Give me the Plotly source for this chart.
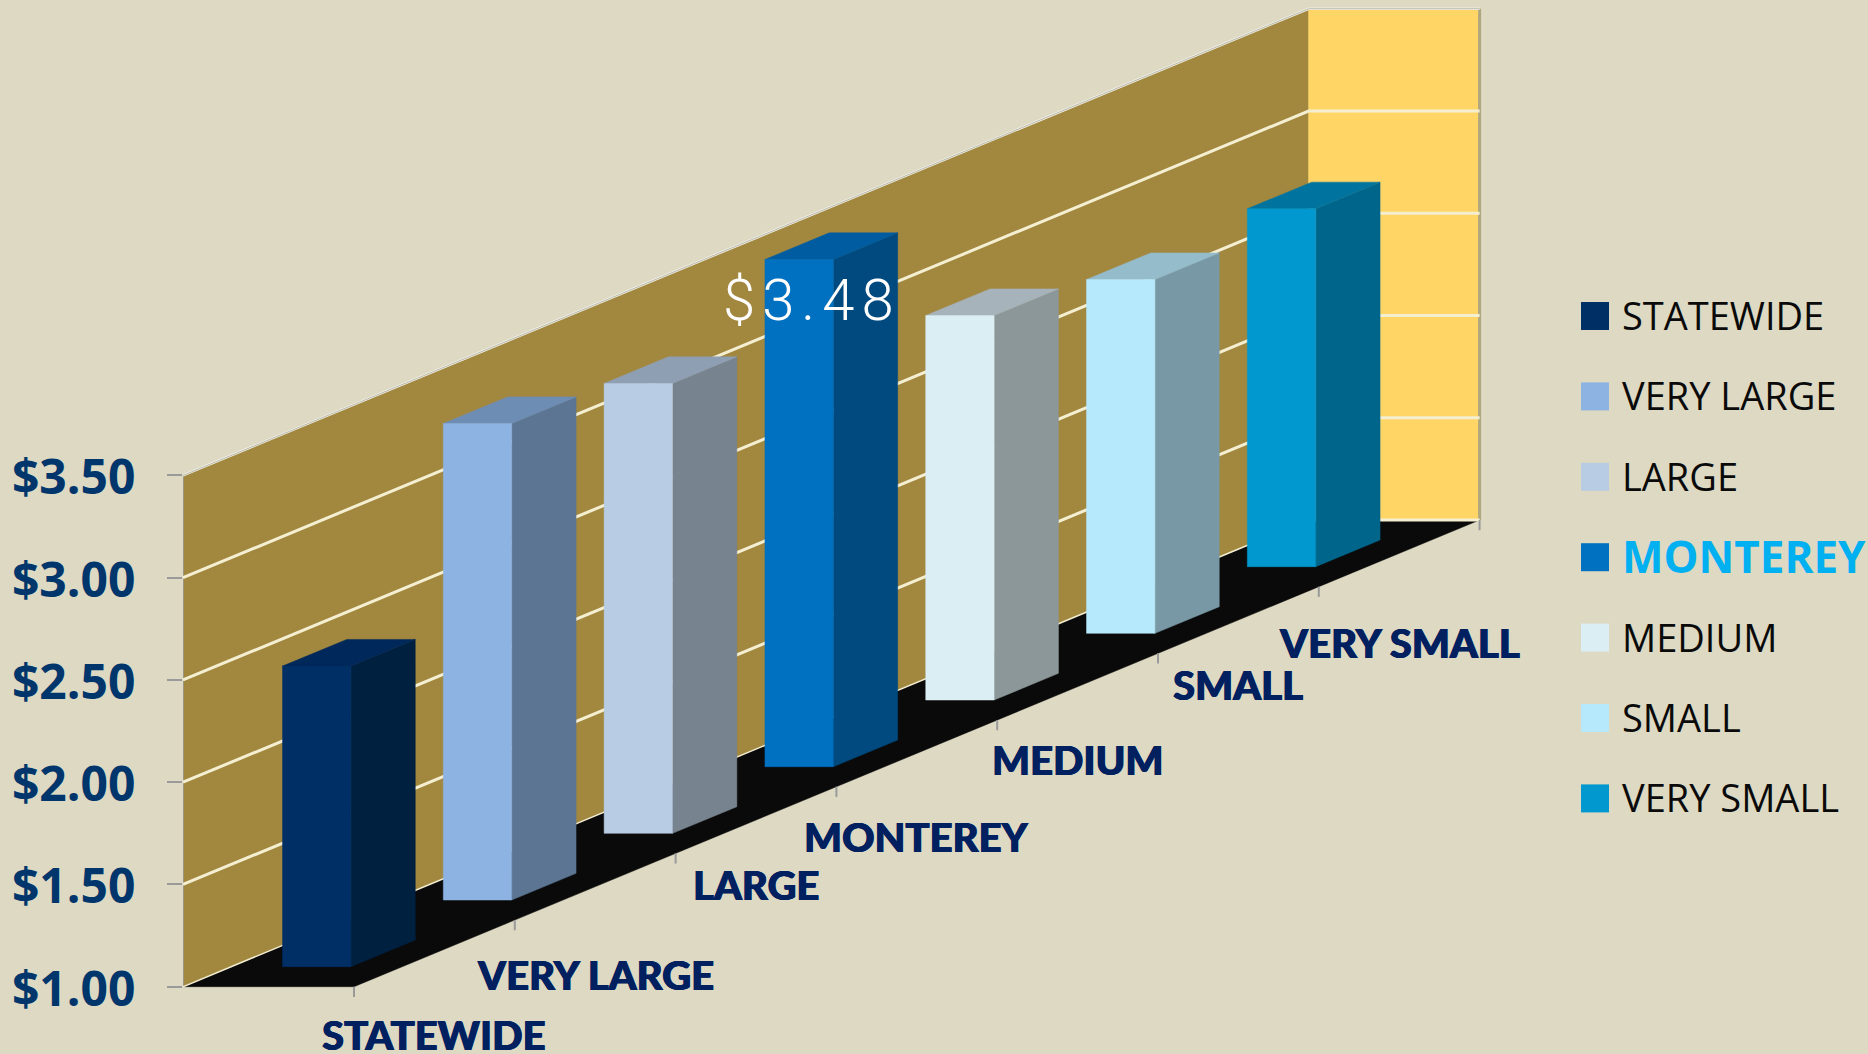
import plotly.graph_objects as go

# Average cost per district size group
categories = ["STATEWIDE", "VERY LARGE", "LARGE", "MONTEREY", "MEDIUM", "SMALL", "VERY SMALL"]
values = [2.47, 3.33, 3.20, 3.48, 2.88, 2.73, 2.75]
tick_values = [1.0, 1.5, 2.0, 2.5, 3.0, 3.5]
tick_labels = ["$1.00", "$1.50", "$2.00", "$2.50", "$3.00", "$3.50"]

front_colors = ["#002F66", "#8DB3E2", "#B8CCE4", "#0070C0", "#DBEEF4", "#B7E9FC", "#0098CF"]
side_colors = ["#002040", "#5B7593", "#77838F", "#004A7F", "#8C9799", "#7898A5", "#00658A"]
top_colors = ["#00285A", "#6D8DB5", "#8F9FB3", "#005CA0", "#A6B3BA", "#94BCCB", "#00749F"]

WIDTH, HEIGHT = 1868, 1054
LEFT = 183
SLOT_PX = 160.8          # pixels per category slot
DOLLAR_PX = 204.5        # pixels per dollar
BASE_Y_PX = 986.7        # pixel row of the $1.00 floor line
DEPTH = 171.0 / SLOT_PX  # horizontal run of the floor depth, in slots
RISE = 66.67 / DOLLAR_PX # vertical climb per slot of the oblique view, in dollars
BASE = tick_values[0]
TOP = tick_values[-1]
N = len(categories)

BG = "#DDD9C3"
WALL = "#A2873F"
SIDE_WALL = "#FFD666"
FLOOR = "#0A0A0A"
GRID = "#F5EFD2"
AXIS = "#9A9A9A"
NAVY = "#002060"


def project(u, d, v):
    """Oblique projection of slot position u, depth d (0 back, 1 front) and value v."""
    return u + d * DEPTH, v + u * RISE


def polygon(corners, color):
    pts = [project(*c) for c in corners]
    xs = [p[0] for p in pts] + [pts[0][0]]
    ys = [p[1] for p in pts] + [pts[0][1]]
    return go.Scatter(x=xs, y=ys, mode="lines", fill="toself", fillcolor=color,
                      line=dict(width=0.5, color=color), hoverinfo="skip", showlegend=False)


def path(corners, color, width):
    pts = [project(*c) for c in corners]
    return go.Scatter(x=[p[0] for p in pts], y=[p[1] for p in pts], mode="lines",
                      line=dict(color=color, width=width), hoverinfo="skip", showlegend=False)


fig = go.Figure()

# Walls and floor
fig.add_trace(polygon([(0, 0, BASE), (N, 0, BASE), (N, 0, TOP), (0, 0, TOP)], WALL))
fig.add_trace(polygon([(N, 0, BASE), (N, 1, BASE), (N, 1, TOP), (N, 0, TOP)], SIDE_WALL))
fig.add_trace(polygon([(0, 0, BASE), (0, 1, BASE), (N, 1, BASE), (N, 0, BASE)], FLOOR))

# Wall edges
fig.add_trace(path([(0, 0, BASE), (0, 0, TOP)], AXIS, 1.5))
fig.add_trace(path([(N, 1, BASE), (N, 1, TOP)], "#AFA77F", 3))

# Gridlines wrap from the back wall onto the side wall
for tv in tick_values[1:-1]:
    fig.add_trace(path([(0, 0, tv), (N, 0, tv), (N, 1, tv)], GRID, 3))
fig.add_trace(path([(N, 0, BASE), (N, 1, BASE)], GRID, 3))
fig.add_trace(path([(0, 0, BASE), (N, 0, BASE)], GRID, 1.5))
fig.add_trace(path([(0, 0, TOP), (N, 0, TOP), (N, 1, TOP)], "#F2F0E4", 2.5))
fig.add_trace(path([(0, 0, TOP), (N, 0, TOP), (N, 1, TOP)], "#A9A9A0", 0.8))

# Category ticks on the front edge of the floor
for i in range(N + 1):
    fig.add_trace(path([(i, 1, BASE), (i, 1, BASE - 0.05)], AXIS, 2))

# Bars: each occupies the middle 40% of its slot in both directions
U0, D0, SPAN = 0.3, 0.3, 0.4
for i, v in enumerate(values):
    u1, u2 = i + U0, i + U0 + SPAN
    d1, d2 = D0, D0 + SPAN
    fig.add_trace(polygon([(u1, d2, BASE), (u2, d2, BASE), (u2, d2, v), (u1, d2, v)], side_colors[i]))
    fig.add_trace(polygon([(u1, d2, v), (u2, d2, v), (u2, d1, v), (u1, d1, v)], top_colors[i]))
    fig.add_trace(polygon([(u1, d1, BASE), (u1, d2, BASE), (u1, d2, v), (u1, d1, v)], front_colors[i]))

annotations = []

# Category labels below the floor edge, dropped by hand to stay clear of each other
label_drop = [82, 88, 65, 84, 73, 65, 90]
for i, name in enumerate(categories):
    x, y = project(i + 0.5, 1, BASE)
    annotations.append(dict(x=x, y=y, xref="x", yref="y", text=name, showarrow=False,
                            yshift=-label_drop[i], xanchor="center", yanchor="middle",
                            font=dict(family="Lato Black, Lato", size=40, color=NAVY, weight=900,
                                      shadow="0.6px 0 0 #002060, -0.6px 0 0 #002060")))

# Value callout for the highlighted group
hi = categories.index("MONTEREY")
x, y = project(hi + U0, D0 + SPAN / 2, values[hi])
annotations.append(dict(x=x, y=y, xref="x", yref="y", showarrow=False, xshift=13, yshift=-40,
                        text=f'<span style="letter-spacing:7px">${values[hi]:.2f}</span>',
                        xanchor="center", yanchor="middle",
                        font=dict(family="Roboto", size=58, color="white", weight=300)))

# Hand-placed legend with a larger swatch and an emphasised entry
shapes = []
LEGEND_FIRST_Y = 316
LEGEND_STEP = 80.4


def paper_x(px):
    return (px - LEFT) / (WIDTH - LEFT)


def paper_y(px):
    return 1 - px / HEIGHT


for i, name in enumerate(categories):
    cy = LEGEND_FIRST_Y + i * LEGEND_STEP
    shapes.append(dict(type="rect", xref="paper", yref="paper", layer="above", line=dict(width=0),
                       x0=paper_x(1581), x1=paper_x(1609),
                       y0=paper_y(cy - 14), y1=paper_y(cy + 14), fillcolor=front_colors[i]))
    emphasised = name == "MONTEREY"
    annotations.append(dict(
        xref="paper", yref="paper", x=paper_x(1620), y=paper_y(cy - 1), text=name, showarrow=False,
        xanchor="left", yanchor="middle",
        font=dict(family="Open Sans", size=44 if emphasised else 38,
                  color="#00B0F0" if emphasised else "#0A0A0A",
                  weight=700 if emphasised else 400)))

fig.update_layout(
    width=WIDTH, height=HEIGHT,
    margin=dict(l=LEFT, r=0, t=0, b=0, pad=0),
    paper_bgcolor=BG, plot_bgcolor=BG,
    showlegend=False,
    annotations=annotations, shapes=shapes,
    xaxis=dict(visible=False, range=[0, (WIDTH - LEFT) / SLOT_PX], fixedrange=True),
    yaxis=dict(
        range=[BASE - (HEIGHT - BASE_Y_PX) / DOLLAR_PX, BASE + BASE_Y_PX / DOLLAR_PX],
        tickmode="array", tickvals=tick_values, ticktext=tick_labels,
        ticks="outside", ticklen=15, tickwidth=2, tickcolor=AXIS,
        ticklabelstandoff=22, ticklabelshift=2, showgrid=False, zeroline=False, showline=False,
        automargin=False, fixedrange=True,
        tickfont=dict(family="Open Sans", size=48, color="#00366B", weight=700)),
)

fig.write_html("out.html")
